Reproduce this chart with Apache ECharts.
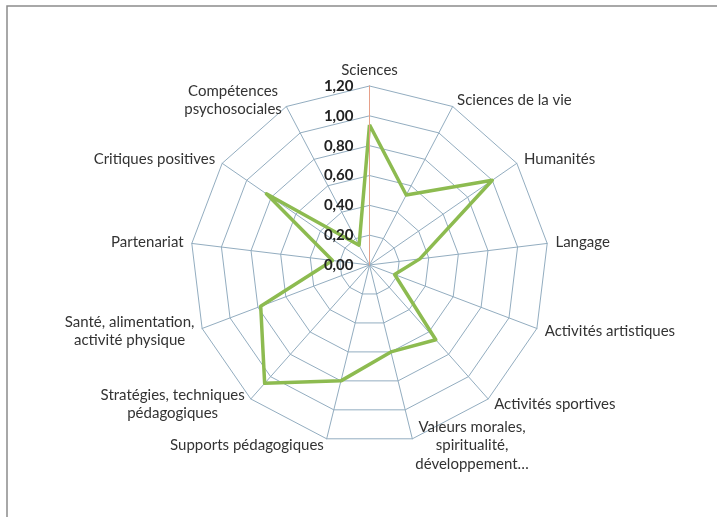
<!DOCTYPE html>
<html>
<head>
<meta charset="utf-8">
<script src="https://cdn.jsdelivr.net/npm/echarts@6/dist/echarts.min.js"></script>
<style>
  html, body { margin: 0; padding: 0; background: #fff; }
  #chart { width: 717px; height: 517px; }
</style>
</head>
<body>
<div id="chart"></div>
<script>
// catégories (sens horaire, depuis le haut)
const categories = [
  'Sciences',
  'Sciences de la vie',
  'Humanités',
  'Langage',
  'Activités artistiques',
  'Activités sportives',
  'Valeurs morales,\nspiritualité,\ndéveloppement…',
  'Supports pédagogiques',
  'Stratégies, techniques\npédagogiques',
  'Santé, alimentation,\nactivité physique',
  'Partenariat',
  'Critiques positives',
  'Compétences\npsychosociales'
];
const values = [0.94, 0.53, 1.00, 0.34, 0.18, 0.67, 0.60, 0.80, 1.06, 0.78, 0.25, 0.84, 0.15];
const axisMax = 1.2;
const axisStep = 0.2;

const cx = 369.5, cy = 265, r = 179;
const gridColor = '#93adc0';
const nameFont = 15;

// echarts tourne dans le sens anti-horaire : on inverse l'ordre (sauf le premier)
const order = [0].concat(categories.map((c, i) => i).slice(1).reverse());

// largeur de chaque étiquette, pour centrer les lignes entre elles
const ctx = document.createElement('canvas').getContext('2d');
ctx.font = nameFont + 'px Lato';
const rich = {};
categories.forEach((c, i) => {
  const w = Math.max(...c.split('\n').map(s => ctx.measureText(s).width));
  rich['n' + i] = { width: Math.ceil(w) + 2, align: 'center', fontSize: nameFont, fontFamily: 'Lato', color: '#333', lineHeight: 18.5 };
});

const myChart = echarts.init(document.getElementById('chart'));

const option = {
  backgroundColor: '#fff',
  animation: false,
  textStyle: { fontFamily: 'Lato' },
  graphic: [{
    type: 'rect',
    shape: { x: 7, y: 6, width: 720, height: 520 },
    style: { fill: 'none', stroke: '#8c8c8c', lineWidth: 1.5 },
    silent: true
  }],
  radar: {
    center: [cx, cy],
    radius: r,
    startAngle: 90,
    splitNumber: 6,
    shape: 'polygon',
    nameGap: 7,
    indicator: order.map(i => ({ name: categories[i], min: 0, max: axisMax })),
    axisName: {
      color: '#333', fontSize: nameFont, fontFamily: 'Lato', lineHeight: 18.5,
      formatter: name => {
        const i = categories.indexOf(name);
        return name.split('\n').map(s => '{n' + i + '|' + s + '}').join('\n');
      },
      rich: rich
    },
    axisLine: { lineStyle: { color: gridColor, width: 1 } },
    splitLine: { lineStyle: { color: gridColor, width: 1 } },
    splitArea: { show: false }
  },
  // axe de graduation le long de "Sciences"
  grid: { left: cx, top: cy - r, width: 0, height: r, containLabel: false },
  xAxis: { type: 'value', show: false },
  yAxis: {
    type: 'value',
    min: 0,
    max: axisMax,
    interval: axisStep,
    z: 10,
    axisLine: { show: true, lineStyle: { color: '#e6a08a', width: 1 } },
    axisTick: { show: false },
    splitLine: { show: false },
    axisLabel: {
      margin: 16,
      color: '#222',
      fontWeight: 'bold',
      fontSize: 15,
      fontFamily: 'Lato',
      formatter: v => v.toFixed(2).replace('.', ',')
    }
  },
  series: [{
    type: 'radar',
    symbol: 'none',
    lineStyle: { color: '#8dbb50', width: 3.5 },
    data: [{ value: order.map(i => values[i]) }]
  }]
};

myChart.setOption(option);
</script>
</body>
</html>
